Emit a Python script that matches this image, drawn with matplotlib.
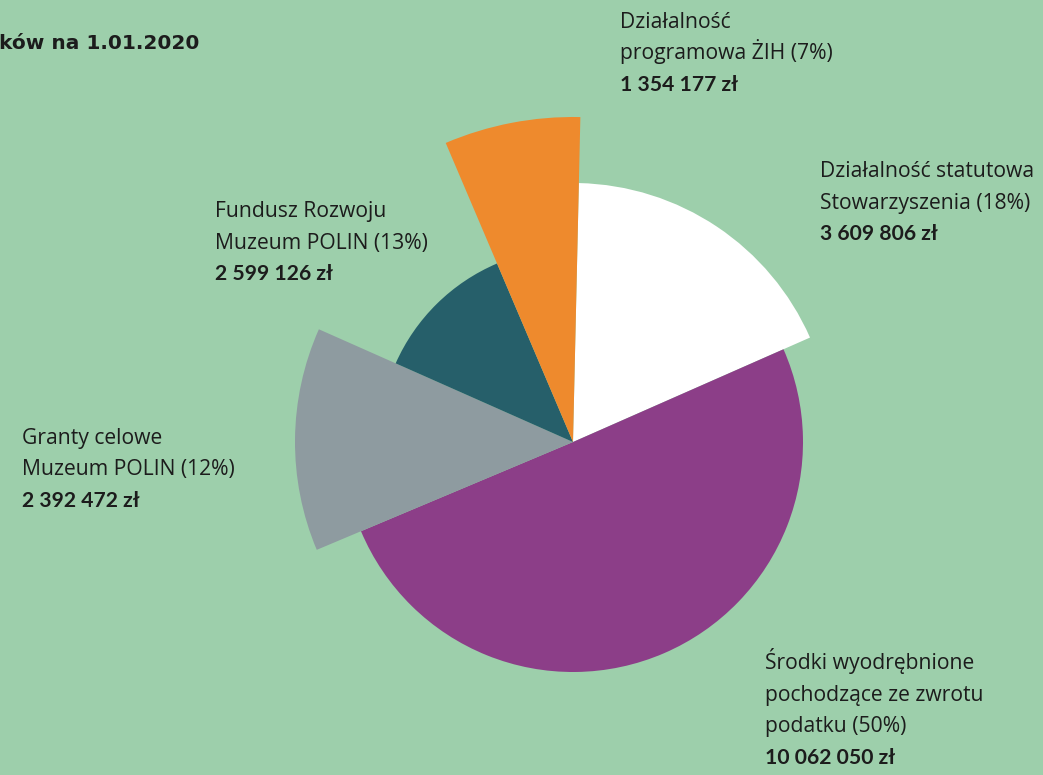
import matplotlib
matplotlib.use("Agg")
import matplotlib.pyplot as plt

# Data (labels as printed in the chart)
amounts = ["1 354 177 zł", "3 609 806 zł", "10 062 050 zł", "2 392 472 zł", "2 599 126 zł"]
label_lines = [["Działalność", "programowa ŻIH (7%)"],
               ["Działalność statutowa", "Stowarzyszenia (18%)"],
               ["Środki wyodrębnione", "pochodzące ze zwrotu", "podatku (50%)"],
               ["Granty celowe", "Muzeum POLIN (12%)"],
               ["Fundusz Rozwoju", "Muzeum POLIN (13%)"]]
title = "ków na 1.01.2020"

# Wedge sizes as drawn in the picture, clockwise from the top:
# white, purple, grey, teal, orange (grey wedge is drawn as the 13% one)
wedge_names = ["statutowa", "zwrot podatku", "granty", "fundusz", "ŻIH"]
wedge_values = [3609806, 10062050, 2599126, 2392472, 1354177]

# Style
wedge_radii = [259, 230, 278, 194, 325]
wedge_colors = ["#ffffff", "#8c3e88", "#8e9ba0", "#265f6a", "#ee8a2d"]
bg = "#9dcfab"
txt = "#1c1c1c"
W, H = 1043, 775
center = (573, H - 442)
label_pos = [(620, 28), (820, 177), (765, 669), (22, 444), (215, 217)]
line_gap = 31.5

fig = plt.figure(figsize=(W / 100, H / 100), dpi=100, facecolor=bg)
ax = fig.add_axes([0, 0, 1, 1])
ax.set_facecolor(bg)

wedges, _ = ax.pie(wedge_values, startangle=88.7, counterclock=False,
                   center=center, radius=200, colors=wedge_colors,
                   wedgeprops=dict(linewidth=0))
for w, r in zip(wedges, wedge_radii):
    w.set_radius(r)
ax.set_xlim(0, W)
ax.set_ylim(0, H)
ax.set_aspect("equal")
ax.axis("off")

for i, (x, yb) in enumerate(label_pos):
    lines = label_lines[i]
    for k, line in enumerate(lines):
        ax.text(x, H - (yb + k * line_gap), line, fontsize=15.2, family="Open Sans",
                color=txt, va="baseline", ha="left")
    ax.text(x, H - (yb + len(lines) * line_gap), amounts[i], fontsize=15.2,
            family="Lato", fontweight="bold", color=txt, va="baseline", ha="left")

ax.text(-1, H - 49, title, fontsize=14.5, family="DejaVu Sans", fontweight="bold",
        color=txt, va="baseline", ha="left")

fig.savefig("out.png", dpi=100, facecolor=bg)
